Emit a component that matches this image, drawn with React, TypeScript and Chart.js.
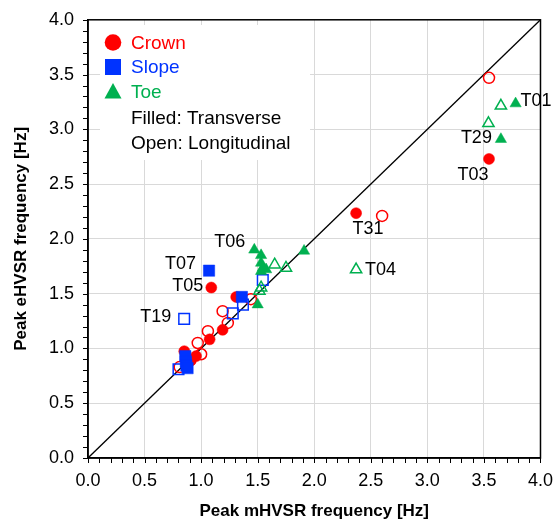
import React, { useEffect, useRef } from "react";
import { Chart, registerables } from "chart.js";

Chart.register(...registerables);

// ---- data (Peak mHVSR frequency [Hz], Peak eHVSR frequency [Hz]) ----
const crownTransverse: number[][] = [
  [3.545, 2.73], [2.37, 2.235], [1.09, 1.556], [1.31, 1.47], [1.19, 1.17],
  [1.075, 1.083], [0.955, 0.93], [0.91, 0.89], [0.851, 0.975],
];
const crownLongitudinal: number[][] = [
  [3.545, 3.47], [2.6, 2.21], [1.44, 1.45], [1.19, 1.34], [1.236, 1.233],
  [1.06, 1.158], [0.97, 1.05], [1.0, 0.947], [0.81, 0.83],
];
const slopeTransverse: number[][] = [
  [1.07, 1.71], [1.36, 1.47], [0.86, 0.93], [0.865, 0.88], [0.87, 0.845], [0.88, 0.82],
];
const slopeLongitudinal: number[][] = [
  [0.85, 1.27], [1.545, 1.625], [1.28, 1.32], [1.37, 1.4], [0.8, 0.81],
];
const toeTransverse: number[][] = [
  [3.78, 3.235], [3.65, 2.91], [1.91, 1.89], [1.47, 1.9], [1.53, 1.85],
  [1.53, 1.78], [1.545, 1.735], [1.575, 1.72], [1.53, 1.705], [1.5, 1.4],
];
const toeLongitudinal: number[][] = [
  [3.65, 3.215], [3.54, 3.055], [2.37, 1.72], [1.65, 1.765], [1.75, 1.735],
  [1.53, 1.555], [1.515, 1.525],
];
const oneToOneLine: number[][] = [[0, 0], [4, 4]];

const axisMin = 0;
const axisMax = 4;
const majorStep = 0.5;
const minorStep = 0.1;
const xTitle = "Peak mHVSR frequency [Hz]";
const yTitle = "Peak eHVSR frequency [Hz]";

const legendSeries = ["Crown", "Slope", "Toe"];
const legendNotes = ["Filled: Transverse", "Open: Longitudinal"];

// station labels: text, dataset index, point index
const stationLabels: [string, number, number][] = [
  ["T01", 4, 0], ["T29", 4, 1], ["T03", 0, 0], ["T31", 0, 1], ["T04", 5, 2],
  ["T06", 4, 3], ["T07", 2, 0], ["T05", 0, 2], ["T19", 3, 0],
];

// ---- styles ----
const RED = "#ff0000";
const BLUE = "#0033ff";
const GREEN = "#00b050";
const FONT = 'Arial, "Liberation Sans", sans-serif';

const labelStyle: Record<string, { dx: number; dy: number; align: CanvasTextAlign }> = {
  T01: { dx: 5, dy: -3, align: "left" },
  T29: { dx: -9, dy: -1, align: "right" },
  T03: { dx: -16, dy: 16, align: "center" },
  T31: { dx: 12, dy: 16, align: "center" },
  T04: { dx: 9, dy: 0, align: "left" },
  T06: { dx: -9, dy: -8, align: "right" },
  T07: { dx: -13, dy: -7, align: "right" },
  T05: { dx: -8, dy: -2, align: "right" },
  T19: { dx: -13, dy: -2, align: "right" },
};

const toXY = (arr: number[][]) => arr.map(([x, y]) => ({ x, y }));
const isMajor = (v: number) => Math.abs(v / majorStep - Math.round(v / majorStep)) < 1e-6;

const overlayPlugin = {
  id: "overlay",
  beforeDatasetsDraw(chart: any) {
    const ctx = chart.ctx;
    ctx.save();
    ctx.fillStyle = "#ffffff";
    ctx.fillRect(100, 25, 210, 135);
    ctx.restore();
  },
  afterDraw(chart: any) {
    const ctx = chart.ctx;
    const a = chart.chartArea;
    const xs = chart.scales.x;
    const ys = chart.scales.y;
    ctx.save();
    // tick marks (major + minor)
    ctx.strokeStyle = "#000";
    ctx.lineWidth = 1;
    ctx.beginPath();
    const n = Math.round((axisMax - axisMin) / minorStep);
    for (let i = 0; i <= n; i++) {
      const v = axisMin + i * minorStep;
      const px = Math.round(xs.getPixelForValue(v)) + 0.5;
      ctx.moveTo(px, a.bottom);
      ctx.lineTo(px, a.bottom + 5);
      const py = Math.round(ys.getPixelForValue(v)) + 0.5;
      ctx.moveTo(a.left, py);
      ctx.lineTo(a.left - 5, py);
    }
    ctx.stroke();

    // frame
    ctx.lineWidth = 1.5;
    ctx.strokeRect(a.left, a.top, a.right - a.left, a.bottom - a.top);

    // legend
    const mx = 113;
    const tx = 131;
    const rows = [42.5, 67, 92, 118, 143];
    ctx.fillStyle = RED;
    ctx.beginPath();
    ctx.arc(mx, rows[0], 8.3, 0, Math.PI * 2);
    ctx.fill();
    ctx.fillStyle = BLUE;
    ctx.fillRect(mx - 8, rows[1] - 8, 16, 16);
    ctx.fillStyle = GREEN;
    ctx.beginPath();
    ctx.moveTo(mx, rows[2] - 9);
    ctx.lineTo(mx + 8.5, rows[2] + 6.5);
    ctx.lineTo(mx - 8.5, rows[2] + 6.5);
    ctx.closePath();
    ctx.fill();
    ctx.font = `19px ${FONT}`;
    ctx.textAlign = "left";
    ctx.textBaseline = "middle";
    const colors = [RED, BLUE, GREEN];
    legendSeries.forEach((s, i) => {
      ctx.fillStyle = colors[i];
      ctx.fillText(s, tx, rows[i] + 1);
    });
    ctx.fillStyle = "#000";
    legendNotes.forEach((s, i) => {
      ctx.fillText(s, tx, rows[3 + i] + 1);
    });

    // station labels
    ctx.font = `18px ${FONT}`;
    ctx.fillStyle = "#000";
    stationLabels.forEach(([text, ds, idx]) => {
      const el = chart.getDatasetMeta(ds).data[idx];
      if (!el) return;
      const st = labelStyle[text];
      ctx.textAlign = st.align;
      ctx.fillText(text, el.x + st.dx, el.y + st.dy);
    });
    ctx.restore();
  },
};

export default function App() {
  const ref = useRef<HTMLCanvasElement>(null);
  useEffect(() => {
    if (!ref.current) return;
    const transparent = "rgba(0,0,0,0)";
    const mk = (data: number[][], color: string, filled: boolean, style: string, r: number, order: number) => ({
      type: "scatter" as const,
      data: toXY(data),
      pointStyle: style,
      pointRadius: r,
      pointHoverRadius: r,
      backgroundColor: filled ? color : transparent,
      borderColor: color,
      borderWidth: filled ? 0.5 : 1.5,
      order,
    });
    const axisCommon = (title: string) => ({
      type: "linear" as const,
      min: axisMin,
      max: axisMax,
      ticks: {
        stepSize: minorStep,
        maxTicksLimit: 100,
        autoSkip: false,
        maxRotation: 0,
        color: "#000",
        font: { family: FONT, size: 18 },
        callback: (v: any) => (isMajor(Number(v)) ? Number(v).toFixed(1) : ""),
      },
      grid: {
        color: (c: any) => (c.tick && isMajor(c.tick.value) ? "#d9d9d9" : transparent),
        tickColor: transparent,
        tickLength: 5,
        lineWidth: 1,
        drawTicks: true,
      },
      border: { display: true, color: "#000", width: 1.5 },
      title: {
        display: true,
        text: title,
        color: "#000",
        font: { family: FONT, size: 17, weight: "bold" as const },
      },
    });
    const xAxis: any = axisCommon(xTitle);
    xAxis.ticks.padding = 7;
    xAxis.title.padding = { top: 0, bottom: 3 };
    xAxis.afterFit = (s: any) => { s.height = 67; };
    const yAxis: any = axisCommon(yTitle);
    yAxis.ticks.padding = 9;
    yAxis.title.padding = { top: 11, bottom: 0 };
    yAxis.afterFit = (s: any) => { s.width = 88; };

    const chart = new Chart(ref.current, {
      type: "scatter",
      data: {
        datasets: [
          mk(crownTransverse, RED, true, "circle", 5.5, 6),
          mk(crownLongitudinal, RED, false, "circle", 5.5, 5),
          mk(slopeTransverse, BLUE, true, "rect", 8, 4),
          mk(slopeLongitudinal, BLUE, false, "rect", 7.5, 3),
          mk(toeTransverse, GREEN, true, "triangle", 6.5, 2),
          mk(toeLongitudinal, GREEN, false, "triangle", 6.5, 1),
          {
            type: "line" as const,
            data: toXY(oneToOneLine),
            borderColor: "#000",
            borderWidth: 1.3,
            pointRadius: 0,
            fill: false,
            order: 100,
          } as any,
        ] as any,
      },
      options: {
        responsive: false,
        animation: false,
        layout: { padding: { top: 15, right: 18, left: 0, bottom: 0 } },
        plugins: { legend: { display: false }, tooltip: { enabled: false } },
        scales: { x: xAxis, y: yAxis },
      },
      plugins: [overlayPlugin],
    });
    return () => chart.destroy();
  }, []);
  return (
    <div style={{ position: "fixed", left: 0, top: 0, width: 560, height: 525, background: "#fff" }}>
      <canvas ref={ref} width={560} height={525} style={{ display: "block" }} />
    </div>
  );
}
